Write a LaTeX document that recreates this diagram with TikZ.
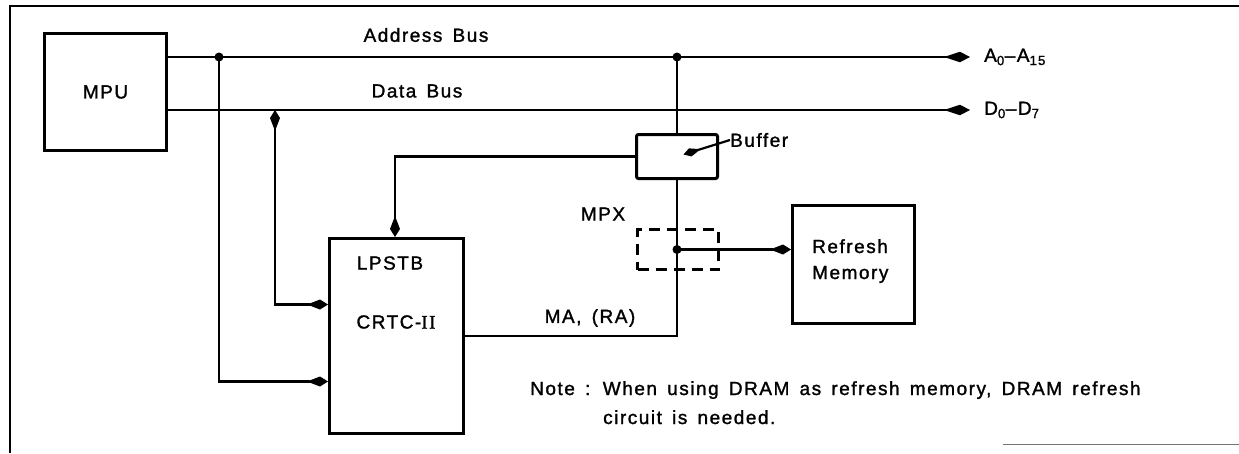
\documentclass[tikz,border=0pt]{standalone}
\usepackage{fontspec}
\setmainfont{Liberation Sans}[LetterSpace=8, FakeBold=1.4, WordSpace=1.5]
\newfontfamily\romanII{Liberation Serif}[LetterSpace=8, FakeBold=1.4]
\usetikzlibrary{arrows.meta}
\begin{document}
\begin{tikzpicture}[x=1pt,y=-1pt,
  every node/.style={font=\fontsize{19pt}{26pt}\selectfont, inner sep=0pt},
  box/.style={draw, line width=3pt, inner sep=0pt, anchor=north west},
  wire/.style={line width=2.2pt},
  >={Kite[length=21pt,width=10pt,inset=13pt]},
  busarrow/.style={-{Kite[length=26pt,width=10.5pt,inset=16pt]}},
  dotr/.style={radius=4.5pt}]
\useasboundingbox (0,0) rectangle (1239,453);
% frame
\draw[line width=2pt] (10,453) -- (10,6) -- (1239,6);
\draw[line width=1pt, black!55] (1003,444) -- (1239,444);
% blocks
\node[box, minimum width=122pt, minimum height=117pt] (mpu) at (43,32) {MPU};
\node[box, minimum width=134pt, minimum height=195pt] (crtc) at (328,237) {};
\node (lpstb) at (390,263) {LPSTB};
\node (crtcl) at (396,322) {CRTC-{\romanII II}};
\node[box, rounded corners=2pt, minimum width=81pt, minimum height=44pt] (buf) at (635,133) {};
\node[anchor=west] (buflabel) at (730,140) {Buffer};
\node[draw, line width=3pt, dash pattern=on 11pt off 7pt, minimum width=81pt, minimum height=40pt, anchor=north west] (mpx) at (636,228) {};
\node (mpxlabel) at (603,214) {MPX};
\node[box, minimum width=122pt, minimum height=118pt] (rm) at (791,204) {};
\node[anchor=base west, align=left] (rmlabel) at (812,279) {Refresh\\Memory};
% bus labels
\node (abus) at (426,35) {Address Bus};
\node (dbus) at (417,91) {Data Bus};
\node[anchor=west] (alab) at (984,57) {A\textsubscript{0}--A\textsubscript{15}};
\node[anchor=west] (dlab) at (984,110) {D\textsubscript{0}--D\textsubscript{7}};
\node (ma) at (590,318) {MA, (RA)};
\node[anchor=base west, align=left, font=\fontsize{19pt}{29pt}\selectfont] (note) at (530,424)
  {Note : When using DRAM as refresh memory, DRAM refresh\\\hspace*{73pt}circuit is needed.};
% buses
\draw[wire, busarrow] (mpu.east |- alab) -- ([xshift=-14pt]alab.west);
\draw[wire, busarrow] (mpu.east |- dlab) -- ([xshift=-14pt]dlab.west);
\coordinate (jA) at (219,57);
\coordinate (jB) at (buf.north |- jA);
\coordinate (jD) at (275,110);
\fill (jA) circle[dotr];
\fill (jB) circle[dotr];
% connections
\draw[wire, ->] (jA) |- ([yshift=-45.5pt]crtc.west);
\draw[wire, <->] (jD) |- ([yshift=31.5pt]crtc.west);
\draw[wire] (jB) -- (buf.north);
\draw[wire, ->] (buf.west) -| ([xshift=67pt]crtc.north west);
\draw[wire] (crtc.east) -| (buf.south);
\fill (buf.south |- mpx.center) circle[dotr];
\draw[wire, ->] (buf.south |- mpx.center) -- (mpx.center -| rm.west);
\draw[wire, -{Kite[length=18pt,width=8.5pt,inset=11pt]}] (buflabel.west) -- ([xshift=6.5pt,yshift=2pt]buf.center);
\end{tikzpicture}
\end{document}
